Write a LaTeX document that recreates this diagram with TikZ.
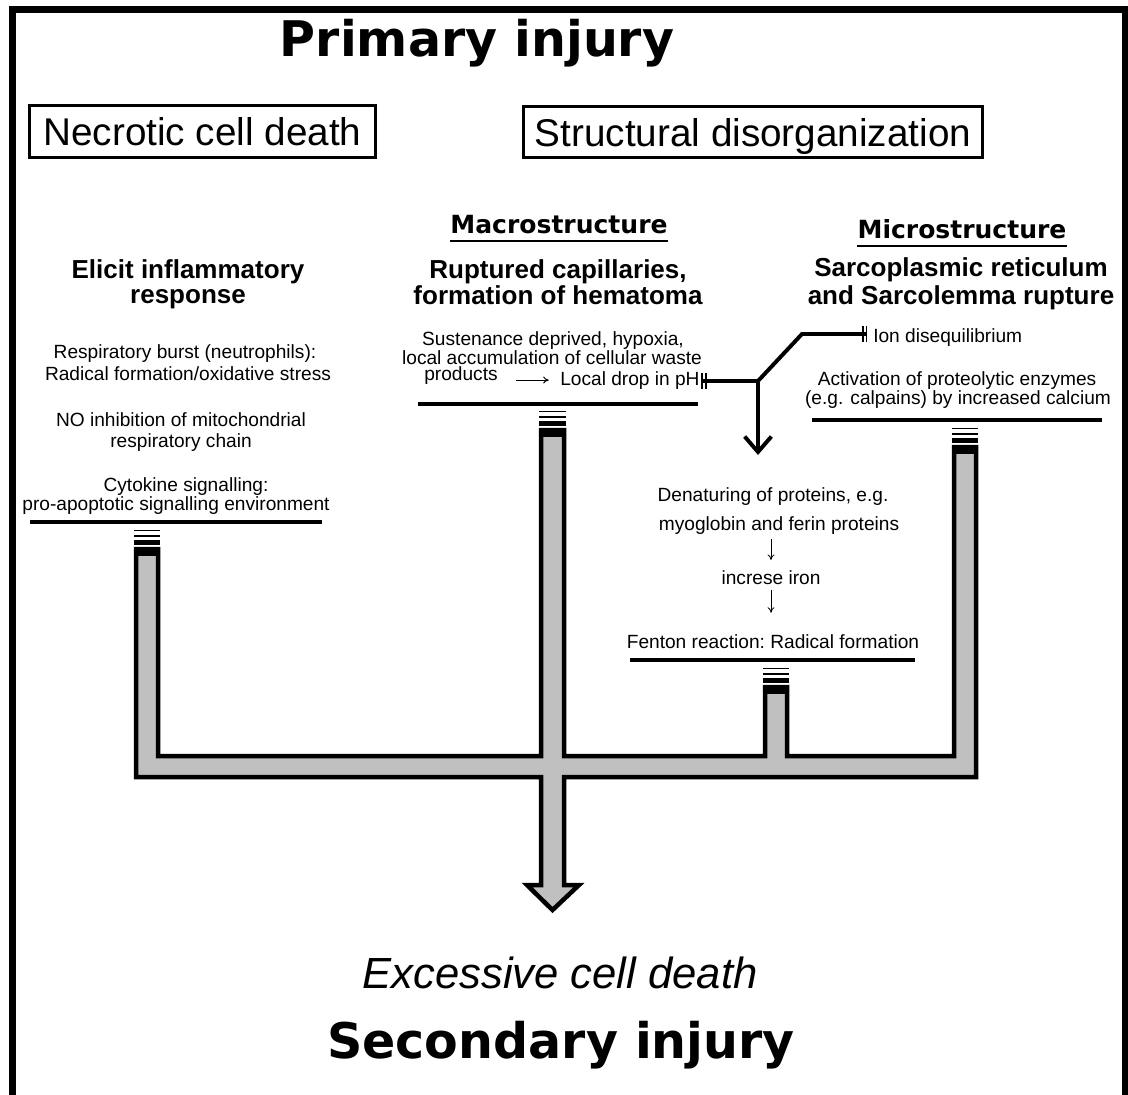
\documentclass[tikz,border=0pt]{standalone}
\usepackage{fontspec}
\setmainfont{Liberation Sans}
\newfontfamily\heavyfont{DejaVu Sans}
\usetikzlibrary{arrows.meta}
\definecolor{pipegray}{RGB}{192,192,192}

\begin{document}
\begin{tikzpicture}[x=0.025cm, y=-0.025cm,
        every node/.style={inner sep=0pt, anchor=base},
        note/.style={font=\fontsize{13.6}{16}\selectfont},
        head/.style={font=\fontsize{18.5}{22}\selectfont\bfseries},
        title/.style={font=\heavyfont\bfseries\fontsize{34.9}{40}\selectfont},
        subtitle/.style={font=\heavyfont\bfseries\fontsize{17.8}{21}\selectfont},
        group/.style={draw, line width=2.1pt, anchor=center, text depth=0pt, font=\fontsize{27.5}{31}\selectfont},
        rule/.style={line width=2.8pt},
        block/.style={line width=2.8pt},
        pipe/.style={fill=pipegray, draw=black, line width=3.2pt},
        stopper/.tip={Bar[width=11pt,line width=1.1pt,sep=1.6pt] Bar[width=11pt,line width=1.1pt]},
        step arrow/.style={-{To[length=4pt,width=5pt]}, line width=0.6pt}]
            \useasboundingbox (0,0) rectangle (1128,1095);
            \draw[line width=5pt] (12.5,1095) -- (12.5,9.5) -- (1125.5,9.5) -- (1125.5,1095);

            \node[title] (primary) at (477,57) {Primary injury};
            \node[group, minimum width=8.63cm, minimum height=1.28cm] (necrotic) at (202.5,131.5) {Necrotic cell death};
            \node[group, minimum width=11.45cm, minimum height=1.28cm] (structural) at (753,132) {Structural disorganization};

            \node[subtitle] (macro) at (559,234) {Macrostructure};
            \node[subtitle] (micro) at (962,239) {Microstructure};
            \draw[line width=1.8pt] ([yshift=-5pt]macro.base west) -- ([yshift=-5pt]macro.base east);
            \draw[line width=1.8pt] ([yshift=-5pt]micro.base west) -- ([yshift=-5pt]micro.base east);

            \node[head] (elicit) at (188,279) {Elicit inflammatory};
            \node[head] (response) at (188,304) {response};
            \node[head] (ruptured) at (558,279) {Ruptured capillaries,};
            \node[head] (hematoma) at (558,305) {formation of hematoma};
            \node[head] (sarco) at (961,277) {Sarcoplasmic reticulum};
            \node[head] (lemma) at (961,305) {and Sarcolemma rupture};

            \node[note] (burst) at (185,359) {Respiratory burst (neutrophils):};
            \node[note] (radical) at (188,380) {Radical formation/oxidative stress};
            \node[note] (noinhib) at (181,426) {NO inhibition of mitochondrial};
            \node[note] (chain) at (181,447) {respiratory chain};
            \node[note] (cytokine) at (186,491) {Cytokine signalling:};
            \node[note] (apoptotic) at (176,510) {pro-apoptotic signalling environment};
            \draw[rule] (30,522) -- (322,522);

            \node[note] (sustenance) at (553,346) {Sustenance deprived, hypoxia,};
            \node[note] (waste) at (552,364) {local accumulation of cellular waste};
            \node[note, anchor=base west] (products) at (424,381) {products};
            \node[note, anchor=base west] (ph) at (560,385) {Local drop in pH};
            \draw[-{To[length=4pt,width=5pt]}, line width=0.7pt, shorten <=13pt, shorten >=8pt] (products.east |- ph.east) -- (ph.west);
            \draw[rule] (418,404) -- (698,404);

            \node[note, anchor=base west] (ion) at (873,343) {Ion disequilibrium};
            \node[note] (activation) at (957,386) {Activation of proteolytic enzymes};
            \node[note] (calpains) at (958,404) {(e.g. calpains) by increased calcium};
            \draw[rule] (812,420) -- (1102,420);

            \coordinate (split) at (758,381);
            \coordinate (kink) at (802,334);
            \coordinate (drop) at (758,455);
            \draw[block, {stopper}-{stopper}, shorten <=1pt, shorten >=4pt] (ph.east |- split) -- (split) -- (kink) -- (kink -| ion.west);
            \draw[block, -{Straight Barb[length=11pt,width=19pt]}] (split) -- (drop);

            \node[note] (denaturing) at (773,501) {Denaturing of proteins, e.g.};
            \node[note] (myoglobin) at (779,530) {myoglobin and ferin proteins};
            \node[note] (iron) at (771,584) {increse iron};
            \node[note] (fenton) at (773,648) {Fenton reaction:\ Radical formation};
            \draw[step arrow, shorten <=3.5pt, shorten >=7pt] (myoglobin.south -| iron) -- (iron.north);
            \draw[step arrow, shorten <=4pt, shorten >=15pt] (iron.south) -- (fenton.north -| iron);
            \draw[rule] (630,660) -- (915,660);

            \filldraw[pipe] (136,549) -- (158,549) -- (158,756) -- (541,756) -- (541,430) -- (564,430) -- (564,756) -- (765,756) -- (765,687) -- (787,687) -- (787,756) -- (954,756) -- (954,447) -- (976,447) -- (976,777) -- (564,777) -- (564,885) -- (579,885) -- (552.5,910) -- (527,885) -- (541,885) -- (541,777) -- (136,777) -- cycle;

            \fill (134,547) rectangle (160,556);
            \fill (539,428) rectangle (566,437);
            \fill (763,685) rectangle (789,694);
            \fill (952,445) rectangle (978,454);

            \draw[line width=1.2pt] (134,530.5) -- (160,530.5);
            \draw[line width=1.9pt] (134,536) -- (160,536);
            \draw[line width=3.5pt] (134,542.2) -- (160,542.2);
            \draw[line width=1.2pt] (539,411.5) -- (566,411.5);
            \draw[line width=1.9pt] (539,417) -- (566,417);
            \draw[line width=3.5pt] (539,423.2) -- (566,423.2);
            \draw[line width=1.2pt] (763,668.5) -- (789,668.5);
            \draw[line width=1.9pt] (763,674) -- (789,674);
            \draw[line width=3.5pt] (763,680.2) -- (789,680.2);
            \draw[line width=1.2pt] (952,428.5) -- (978,428.5);
            \draw[line width=1.9pt] (952,434) -- (978,434);
            \draw[line width=3.5pt] (952,440.2) -- (978,440.2);

            \node[font=\itshape\fontsize{31}{36}\selectfont] (excessive) at (560,988) {Excessive cell death};
            \node[title] (secondary) at (561,1058) {Secondary injury};
        \end{tikzpicture}
\end{document}
